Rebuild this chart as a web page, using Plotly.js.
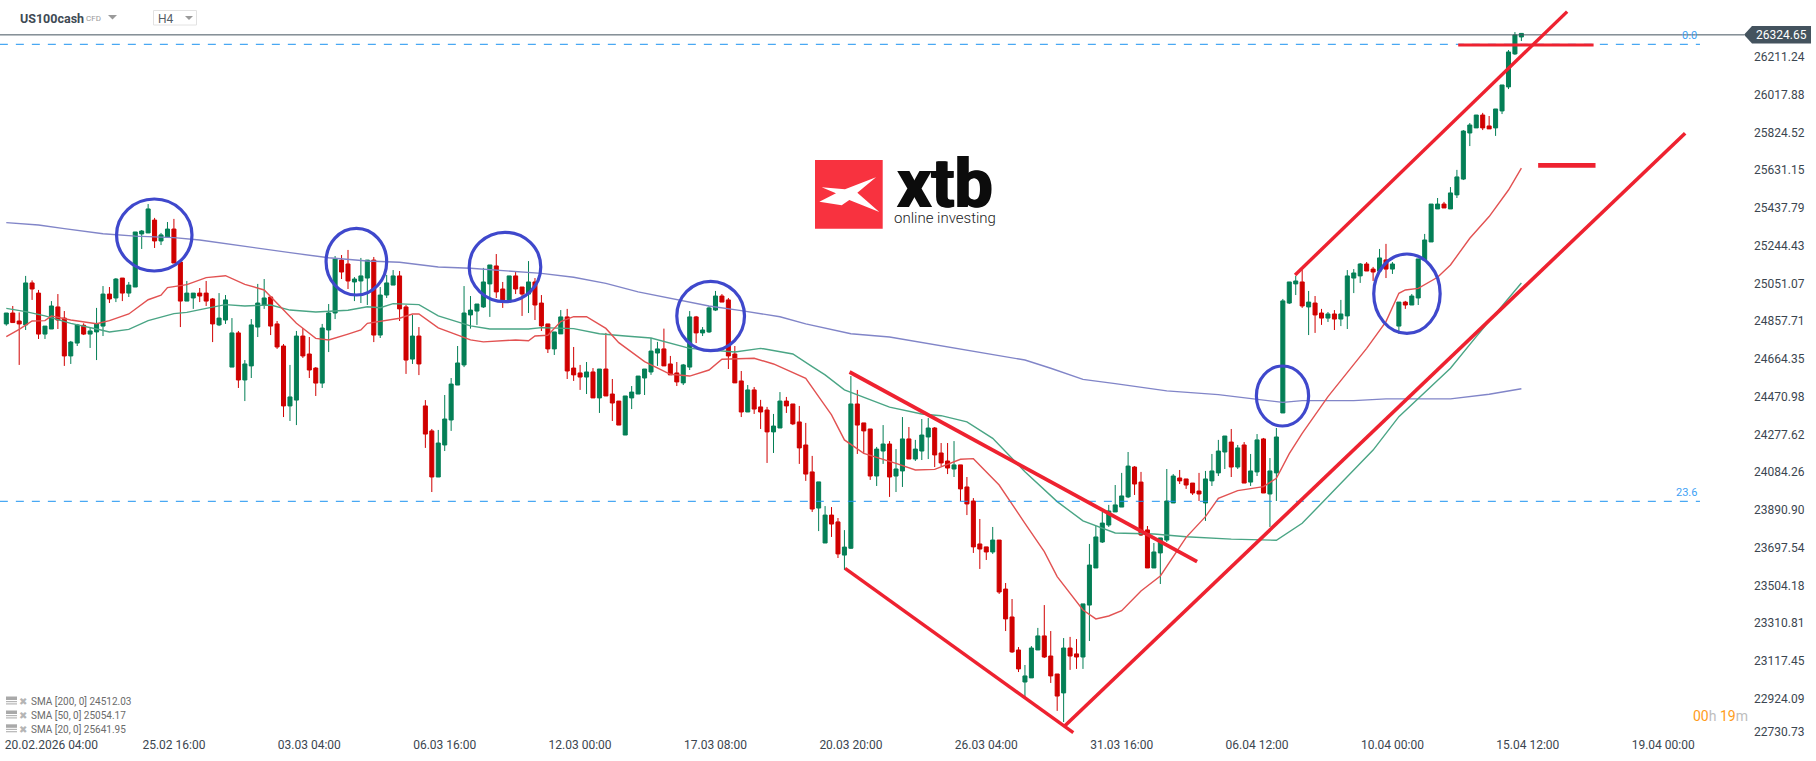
<!DOCTYPE html>
<html><head><meta charset="utf-8">
<script src="https://cdn.plot.ly/plotly-3.0.1.min.js"></script>
<style>html,body{margin:0;padding:0;background:#fff;overflow:hidden}#c{width:1816px;height:761px}</style>
</head><body><div id="c"></div>
<script>
const openP=[24844,24900,24859,24839,25054,25002,24792,24818,24931,24874,
24680,24746,24837,24792,24803,24833,24997,24977,25079,25002,
25033,25305,25310,25376,25269,25289,25330,25161,24961,24977,
25002,25002,24972,24839,24864,24623,24798,24557,24629,24828,
24941,24982,24844,24731,24424,24454,24782,24690,24618,24541,
24813,24900,25171,25151,25059,25064,25079,25171,24787,24992,
25043,25090,24931,24664,24782,24424,24296,24060,24224,24352,
24531,24634,24890,24910,24931,25049,25141,25023,24956,25090,
25033,24997,25059,24951,24844,24716,24793,24880,24618,24593,
24572,24598,24465,24613,24485,24449,24275,24465,24485,24567,
24598,24695,24716,24639,24593,24542,24623,24880,24798,24803,
24915,24987,24967,24690,24552,24393,24506,24419,24403,24291,
24311,24449,24434,24342,24224,24086,23901,23722,23865,23830,
23660,23695,24434,24337,24306,24065,24193,24229,24065,24091,
24255,24152,24193,24265,24311,24183,24142,24101,24122,24009,
23937,23717,23702,23676,23737,23486,23343,23174,23010,23031,
23174,23246,23143,23051,22954,23184,23154,23138,23404,23594,
23727,23814,23881,23906,23958,24111,24034,23789,23594,23671,
23737,23927,24055,24050,24029,23988,23927,24040,24081,24188,
24239,24111,24224,24034,24086,24255,23973,24081,24388,24951,
25049,25059,24931,24951,24900,24874,24895,24869,24885,25079,
25090,25151,25125,25115,25172,25125,24833,24956,24941,24977,
25172,25264,25433,25458,25433,25505,25586,25822,25848,25914,
25858,25848,25935,26058,26227,26314];
const highP=[24900,24936,24903,25090,25067,25018,24833,24961,24997,24910,
24757,24844,24847,24828,24926,25038,25033,25079,25079,25059,
25315,25325,25458,25387,25310,25366,25382,25161,25064,25002,
25028,25064,24977,25002,24992,24874,24808,24659,24869,25049,
25074,24987,24859,24741,24634,24808,24823,24777,24623,24844,
24946,25192,25197,25223,25084,25182,25171,25187,25033,25095,
25120,25115,24941,24890,24828,24454,24306,24301,24480,24567,
24731,25038,24987,24946,25131,25146,25202,25059,25090,25110,
25033,25166,25079,24992,24844,24803,24915,24921,24726,24634,
24649,24618,24613,24798,24562,24449,24475,24526,24577,24613,
24772,24752,24820,24680,24649,24639,24910,24885,24828,24936,
25013,24997,24977,24731,24603,24531,24521,24455,24419,24383,
24495,24470,24434,24424,24337,24168,24035,23911,23906,23850,
23788,24577,24506,24337,24306,24214,24326,24244,24203,24367,
24316,24250,24357,24362,24316,24234,24234,24244,24122,24060,
23952,23845,23702,23804,23737,23517,23435,23189,23097,23194,
23287,23404,23271,23051,23235,23241,23230,23410,23717,23809,
23881,23917,24019,24081,24188,24116,24086,23809,23722,23748,
24101,24075,24096,24050,24029,24081,24091,24178,24250,24270,
24306,24224,24239,24178,24280,24260,24157,24311,24972,25059,
25090,25120,25013,24987,24921,24905,24915,24967,25120,25125,
25156,25161,25136,25228,25254,25161,24956,24962,24997,25177,
25305,25458,25489,25469,25545,25633,25837,25873,25914,25925,
25909,25945,26068,26247,26339,26334];
const lowP=[24835,24851,24634,24813,24967,24767,24767,24818,24818,24629,
24639,24731,24787,24721,24659,24782,24951,24956,24961,24982,
25033,25228,25310,25233,25248,25289,25156,24828,24961,24921,
24956,24936,24751,24833,24844,24623,24516,24449,24567,24777,
24921,24787,24716,24367,24347,24326,24670,24567,24475,24516,
24700,24869,25074,25023,24961,24951,24941,24751,24772,24977,
25043,24859,24588,24639,24582,24209,23983,24060,24193,24296,
24531,24623,24820,24839,24926,24880,24977,24926,24956,24997,
24885,24900,24864,24808,24695,24685,24793,24562,24552,24506,
24485,24465,24388,24475,24347,24326,24275,24408,24485,24480,
24583,24629,24629,24583,24526,24531,24608,24746,24782,24798,
24910,24956,24613,24542,24367,24393,24383,24306,24132,24183,
24311,24388,24326,24127,24040,23881,23783,23722,23753,23645,
23584,23692,24178,24178,24045,24014,24127,23958,23983,24009,
24152,24142,24147,24152,24111,24116,24075,24060,23937,23865,
23671,23589,23635,23666,23461,23271,23159,23061,22933,23031,
23174,23133,23005,22862,22805,23072,23077,23077,23220,23594,
23722,23804,23881,23906,23952,23968,23758,23594,23594,23512,
23727,23927,24024,23999,23968,23937,23835,24014,24065,24101,
24060,24101,24029,24014,24065,23978,23804,23937,24388,24946,
24992,24926,24787,24798,24839,24854,24813,24833,24818,25002,
25054,25115,25064,25115,25079,25100,24793,24921,24941,24941,
25166,25264,25433,25438,25433,25489,25581,25755,25848,25837,
25843,25807,25919,26047,26222,26293];
const closeP=[24900,24851,24844,25054,25023,24792,24833,24936,24864,24680,
24751,24839,24792,24808,24844,24997,24972,25074,25002,25043,
25315,25320,25433,25269,25300,25330,25156,24961,25002,25002,
24987,24961,24844,24874,24967,24798,24557,24639,24839,24951,
24977,24833,24726,24424,24470,24782,24680,24608,24541,24823,
24900,25177,25110,25064,25074,25090,25171,24787,24992,25054,
25090,24921,24659,24782,24639,24280,24060,24234,24357,24536,
24644,24900,24915,24946,25059,25146,25008,24967,25090,25023,
24997,25059,24941,24834,24716,24803,24880,24603,24583,24572,
24598,24465,24613,24475,24439,24326,24475,24495,24577,24613,
24705,24716,24629,24583,24547,24634,24880,24798,24813,24926,
24987,24956,24680,24542,24393,24506,24408,24393,24291,24321,
24449,24424,24332,24209,24075,23896,24035,23865,23819,23666,
23701,24434,24326,24296,24065,24203,24229,24060,24101,24255,
24152,24203,24275,24311,24173,24132,24106,24122,23999,23922,
23702,23691,23676,23737,23471,23333,23164,23077,23041,23184,
23246,23138,23041,22938,23184,23143,23138,23410,23609,23753,
23824,23886,23917,23963,24116,24024,23763,23594,23676,23748,
23937,24065,24040,24019,23978,23973,24050,24091,24193,24270,
24111,24209,24029,24091,24250,23978,24091,24265,24962,25059,
25064,24936,24956,24890,24874,24895,24869,24895,25090,25105,
25151,25115,25110,25182,25125,25151,24956,24941,24987,25177,
25274,25458,25458,25438,25515,25597,25832,25863,25914,25848,
25843,25945,26068,26237,26324,26332];

const sma200Bars=[0,5,9,15,20,26,30,39,44,50,56,61,67,72,78,83,88,93,98,104,109,114,120,124,131,137,158,162,167,172,180,188,194,198,201,209,214,224,230,233,235];
const sma200Vals=[25363,25351,25332,25306,25294,25286,25274,25231,25209,25183,25166,25160,25136,25129,25114,25103,25083,25052,25008,24967,24936,24912,24881,24844,24794,24777,24659,24617,24560,24538,24501,24482,24460,24442,24451,24451,24460,24460,24484,24502,24512];
const sma50Bars=[0,3,6,10,14,16,19,22,26,28,31,34,37,41,44,48,53,56,58,60,64,67,72,75,81,83,88,92,96,100,106,113,117,122,125,127,130,134,137,142,145,149,153,158,163,167,172,178,183,190,197,201,212,216,219,224,228,232,235];
const sma50Vals=[24924,24907,24885,24847,24818,24803,24816,24861,24897,24903,24924,24943,24936,24941,24915,24905,24914,24932,24927,24948,24943,24885,24834,24818,24818,24825,24820,24794,24782,24772,24719,24700,24719,24690,24625,24583,24506,24455,24418,24383,24374,24342,24258,24087,23934,23835,23773,23768,23754,23742,23736,23823,24198,24369,24463,24617,24779,24933,25054];
const sma20Bars=[0,2,4,6,7,10,14,16,19,22,24,25,28,31,34,37,40,42,45,48,50,53,55,56,61,63,64,67,72,74,79,81,82,84,86,88,90,93,95,99,103,106,109,111,116,119,124,126,128,130,132,133,138,141,144,148,150,152,154,158,161,163,167,169,171,173,176,179,181,183,186,188,191,195,197,199,201,205,211,214,216,217,219,222,224,227,230,233,235];
const sma20Vals=[24779,24816,24859,24861,24885,24864,24845,24861,24895,24968,24991,25030,25045,25081,25091,25047,25018,24950,24847,24770,24762,24792,24813,24847,24873,24895,24895,24824,24762,24752,24762,24758,24782,24786,24856,24881,24881,24821,24748,24651,24586,24577,24608,24663,24668,24639,24565,24472,24378,24250,24202,24181,24130,24096,24099,24151,24154,24087,24019,23823,23678,23550,23379,23333,23348,23375,23476,23553,23652,23751,23857,23951,23990,24011,24053,24180,24284,24472,24719,24856,25001,25018,25026,25083,25146,25283,25394,25530,25642];

const priceTickVals=[26211.24,26017.88,25824.52,25631.15,25437.79,25244.43,25051.07,24857.71,24664.35,24470.98,24277.62,24084.26,23890.90,23697.54,23504.18,23310.81,23117.45,22924.09,22753.9];
const priceTickText=['26211.24','26017.88','25824.52','25631.15','25437.79','25244.43','25051.07','24857.71','24664.35','24470.98','24277.62','24084.26','23890.90','23697.54','23504.18','23310.81','23117.45','22924.09','22730.73'];
const timeTickBars=[7,26,47,68,89,110,131,152,173,194,215,236,257];
const timeTickText=['20.02.2026 04:00','25.02 16:00','03.03 04:00','06.03 16:00','12.03 00:00','17.03 08:00','20.03 20:00','26.03 04:00','31.03 16:00','06.04 12:00','10.04 00:00','15.04 12:00','19.04 00:00'];

const lastPrice=26324.65;
const fibLevels=[{label:'0.0',price:26276.3,labelPrice:26322},{label:'23.6',price:23935.5,labelPrice:23983}];
// trend lines: [bar0, price0, bar1, price1, width]
const trendLines=[[199.9,25094.6,242.1,26443.7,3.4],[164.2,22786.1,260.4,25820.4,3.6],[130.1,23592.3,165.5,22750.3,3.4],[130.8,24597.8,184.7,23626.2,3.8],[225.2,26272.7,246.2,26272.7,3.2],[237.6,25656.5,246.5,25656.5,4.8]];
// highlight circles: [bar0, price0, bar1, price1]
const circles=[[17.1,25115.1,28.8,25483.9],[49.6,24992.2,59.0,25333.8],[71.8,24957.8,82.9,25313.3],[104.0,24706.9,114.5,25062.3],[193.9,24321.2,202.0,24628.5],[212.1,24796,222.4,25202.2]];
const smaLegend=['SMA [200, 0] 24512.03','SMA [50, 0] 25054.17','SMA [20, 0] 25641.95'];

const GREEN='#047f56',RED='#d00000',FONT='Roboto, sans-serif',PW=1744,PH=740;
const bars=openP.map((_,i)=>i);
const px=x=>x/PW, py=y=>1-y/PH;

function smaTrace(x,y,c){return {type:'scatter',mode:'lines',x,y,hoverinfo:'skip',showlegend:false,line:{color:c,width:1.4}};}
const traces=[
 smaTrace(sma200Bars,sma200Vals,'#8185c8'),
 smaTrace(sma50Bars,sma50Vals,'#4aa585'),
 smaTrace(sma20Bars,sma20Vals,'#e25252'),
 {type:'candlestick',x:bars,open:openP,high:highP,low:lowP,close:closeP,hoverinfo:'skip',showlegend:false,whiskerwidth:0,
  increasing:{line:{color:GREEN,width:1},fillcolor:GREEN},decreasing:{line:{color:RED,width:1},fillcolor:RED}}
];

const shapes=[];
shapes.push({type:'line',xref:'paper',x0:0,x1:1,yref:'y',y0:lastPrice,y1:lastPrice,line:{color:'#44535e',width:1}});
fibLevels.forEach(f=>shapes.push({type:'line',xref:'x',x0:-1,x1:262.7,yref:'y',y0:f.price,y1:f.price,line:{color:'#1c93f0',width:1,dash:'8px,8px'}}));
trendLines.forEach(t=>shapes.push({type:'line',xref:'x',yref:'y',x0:t[0],y0:t[1],x1:t[2],y1:t[3],line:{color:'#ee2230',width:t[4]}}));
circles.forEach(c=>shapes.push({type:'circle',xref:'x',yref:'y',x0:c[0],y0:c[1],x1:c[2],y1:c[3],line:{color:'#3f48cc',width:3.2}}));

function pathPx(pts,fill,line){return {type:'path',xref:'paper',yref:'paper',path:'M'+pts.map(p=>px(p[0]).toFixed(5)+','+py(p[1]).toFixed(5)).join('L')+'Z',fillcolor:fill,line:line||{width:0}};}
function rectPx(x0,y0,x1,y1,fill,line){return {type:'rect',xref:'paper',yref:'paper',x0:px(x0),x1:px(x1),y0:py(y0),y1:py(y1),fillcolor:fill,line:line||{width:0}};}
// price tag
shapes.push(pathPx([[1744,34.7],[1752,26],[1811,26],[1811,43.4],[1752,43.4]],'#44535e'));
// header carets and timeframe box
shapes.push(pathPx([[108,15],[117,15],[112.5,19.5]],'#9a9a9a'));
shapes.push(rectPx(153.5,10.5,196.5,25,'#fff',{color:'#e2e2e2',width:1}));
shapes.push(pathPx([[185,16],[193,16],[189,20]],'#9a9a9a'));
// logo
shapes.push(rectPx(815,160,882.7,228.7,'#f8323f'));
const lx=(a,b)=>[800+a/3,150+b/3];
shapes.push(pathPx([lx(65,112),lx(135,118),lx(228,82),lx(172,128),lx(238,186),lx(148,150),lx(125,166),lx(58,155),lx(108,130)],'#ffffff'));
// legend icons
[701.5,715.5,729.3].forEach(y=>{
  shapes.push(rectPx(6,y-5,17,y-1.5,'#a9a9a9'));
  shapes.push(rectPx(6,y-0.5,17,y+0.7,'#b5b5b5'));
  shapes.push(rectPx(6,y+1.8,17,y+3,'#b5b5b5'));
});

const ann=[];
function txt(x,y,text,size,color,anchor,extra){ann.push(Object.assign({xref:'paper',yref:'paper',x:px(x),y:py(y),text,showarrow:false,xanchor:anchor||'left',yanchor:'middle',borderpad:0,borderwidth:0,font:{family:FONT,size,color}},extra||{}));}
txt(20,18.7,'<b>US100cash</b>',12.5,'#3e4a54');
txt(86,19,'CFD',8,'#9a9a9a');
txt(158,19,'H4',12,'#555e66');
txt(1781.5,35,'26324.65',12,'#ffffff','center');
txt(1693,716,'<span style="color:#ff9c1a">00</span><span style="color:#bdbdbd">h </span><span style="color:#ff9c1a">19</span><span style="color:#bdbdbd">m</span>',14,'#bdbdbd');
smaLegend.forEach((s,i)=>{const y=[701.5,715.5,729.3][i];txt(31,y,s,10,'#6b6b6b');txt(23,y,'✖',10,'#b5b5b5','center',{font:{family:'DejaVu Sans',size:10,color:'#b5b5b5'}});});
fibLevels.forEach(f=>ann.push({xref:'x',yref:'y',x:262.5,y:f.labelPrice,text:f.label,showarrow:false,xanchor:'right',yanchor:'middle',font:{family:FONT,size:11,color:'#3ea2f5'}}));
// logo text
ann.push({xref:'paper',yref:'paper',x:px(945),y:py(184),text:'<b>xtb</b>',showarrow:false,xanchor:'center',yanchor:'middle',font:{family:FONT,size:68,color:'#0c0c0c',shadow:'1px 0 0 #0c0c0c, -1px 0 0 #0c0c0c'}});
txt(944.5,218,'online investing',15,'#222222','center',{font:{family:FONT,size:15,color:'#222222',weight:300}});

const layout={width:1816,height:761,margin:{l:0,r:72,t:0,b:21,pad:0},paper_bgcolor:'#fff',plot_bgcolor:'#fff',showlegend:false,boxgap:0.21,boxgroupgap:0.21,hovermode:false,
 xaxis:{type:'linear',range:[-0.977,269.53],rangeslider:{visible:false},showgrid:false,zeroline:false,showline:false,ticks:'',tickmode:'array',tickvals:timeTickBars,ticktext:timeTickText,tickfont:{family:FONT,size:12,color:'#3b4650'},ticklabelstandoff:-4,fixedrange:true},
 yaxis:{type:'linear',side:'right',range:[22712.9,26503.2],showgrid:false,zeroline:false,showline:false,ticks:'',tickmode:'array',tickvals:priceTickVals,ticktext:priceTickText,tickfont:{family:FONT,size:12,color:'#3b4650'},ticklabelstandoff:9,fixedrange:true},
 shapes,annotations:ann};
Plotly.newPlot('c',traces,layout,{displayModeBar:false,staticPlot:true});
</script></body></html>
